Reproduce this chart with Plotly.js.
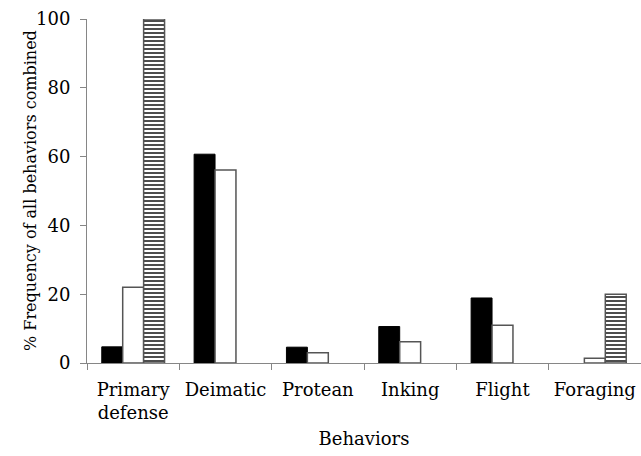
<!DOCTYPE html>
<html>
<head>
<meta charset="utf-8">
<script src="https://cdn.plot.ly/plotly-3.0.1.min.js"></script>
<style>html,body{margin:0;padding:0;background:#fff;}#chart{width:641px;height:456px;}</style>
</head>
<body>
<div id="chart"></div>
<script>
const categories = ["Primary<br>defense", "Deimatic", "Protean", "Inking", "Flight", "Foraging"];
const seriesBlack = [4.7, 60.7, 4.6, 10.6, 18.9, 0];
const seriesWhite = [22.0, 56.1, 3.0, 6.2, 11.0, 1.4];
const seriesHatched = [100, 0, 0, 0, 0, 20];
const yTicks = [0, 20, 40, 60, 80, 100];
const yTitle = "% Frequency of all behaviors combined";
const xTitle = "Behaviors";

const font = "DejaVu Serif";
const fs = 18;
const lw = (arr, w) => arr.map(v => v > 0 ? w : 0);

const traces = [
  {type: "bar", x: categories, y: seriesBlack, name: "Black",
   marker: {color: "#000", line: {color: "#000", width: lw(seriesBlack, 1)}}},
  {type: "bar", x: categories, y: seriesWhite, name: "White",
   marker: {color: "#fff", line: {color: "#555", width: lw(seriesWhite, 1.5)}}},
  {type: "bar", x: categories, y: seriesHatched, name: "Hatched",
   marker: {color: "#fff", line: {color: "#555", width: lw(seriesHatched, 1.5)},
            pattern: {shape: "-", fgcolor: "#000", bgcolor: "#fff", size: 4, solidity: 0.35}}}
];

const layout = {
  width: 641, height: 456,
  margin: {l: 87, r: 0, t: 19, b: 93},
  paper_bgcolor: "#fff", plot_bgcolor: "#fff",
  showlegend: false,
  barmode: "group", bargap: 0.32, bargroupgap: 0,
  font: {family: font, size: fs, color: "#000"},
  xaxis: {
    type: "category",
    showline: true, linecolor: "#868686", linewidth: 1,
    ticks: "outside", tickson: "boundaries", ticklen: 6, tickcolor: "#868686",
    ticklabelstandoff: 10,
    showgrid: false, zeroline: false,
    tickfont: {family: font, size: fs, color: "#000"},
    title: {text: xTitle, font: {family: font, size: fs, color: "#000"}, standoff: 10}
  },
  yaxis: {
    range: [0, 100], tickvals: yTicks, ticktext: yTicks.map(String),
    showline: true, linecolor: "#868686", linewidth: 1,
    ticks: "outside", ticklen: 6, tickcolor: "#868686",
    ticklabelstandoff: 6,
    showgrid: false, zeroline: false,
    tickfont: {family: font, size: fs, color: "#000"}
  },
  annotations: [{
    text: yTitle, textangle: -90, showarrow: false,
    xref: "paper", yref: "paper",
    x: (30 - 87) / 554, y: 0.5, xanchor: "center", yanchor: "middle",
    font: {family: font, size: 16, color: "#000"}
  }]
};

Plotly.newPlot("chart", traces, layout, {displayModeBar: false, staticPlot: true});
</script>
</body>
</html>
